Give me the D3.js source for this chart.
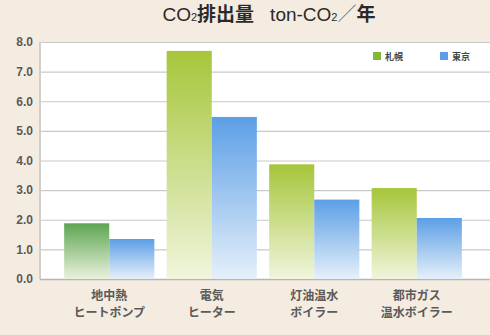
<!DOCTYPE html>
<html>
<head>
<meta charset="utf-8">
<style>
  body { margin: 0; background: #f4ece1; }
  svg { display: block; font-family: "Noto Sans CJK JP", "Noto Sans", sans-serif; }
  .grid line { stroke: #c9c9c9; stroke-width: 1.2px; }
  .grid .domain { display: none; }
  .yaxis text { fill: #5a5a5a; font-size: 12px; font-weight: bold; font-family: "Liberation Sans", Arial, sans-serif; }
  .xlab { fill: #5a5a5a; font-size: 12px; font-weight: bold; }
</style>
<title>CO2排出量</title>
</head>
<body>
<div id="chart"></div>
<script src="https://d3js.org/d3.v7.min.js"></script>
<script>
  // data
  var categories = [["地中熱", "ヒートポンプ"], ["電気", "ヒーター"], ["灯油温水", "ボイラー"], ["都市ガス", "温水ボイラー"]];
  var seriesNames = ["札幌", "東京"];
  var sapporo = [1.88, 7.7, 3.87, 3.07];
  var tokyo = [1.35, 5.47, 2.68, 2.06];
  var yTicks = [0, 1, 2, 3, 4, 5, 6, 7, 8];

  var width = 490, height = 335;
  var plot = {left: 40, right: 490, top: 42, bottom: 279};

  var svg = d3.select("#chart").append("svg")
    .attr("width", width)
    .attr("height", height);

  var defs = svg.append("defs");
  function grad(id, top, bottom) {
    var g = defs.append("linearGradient").attr("id", id)
      .attr("x1", 0).attr("y1", 0).attr("x2", 0).attr("y2", 1);
    g.append("stop").attr("offset", "0%").attr("stop-color", top);
    g.append("stop").attr("offset", "100%").attr("stop-color", bottom);
  }
  grad("gDark", "#5da552", "#eaf2dc");
  grad("gLight", "#a6c63a", "#f0f5dc");
  grad("gBlue", "#5c9fe6", "#e6f0fa");

  // plot background
  svg.append("rect")
    .attr("x", plot.left).attr("y", plot.top)
    .attr("width", plot.right - plot.left).attr("height", plot.bottom - plot.top)
    .attr("fill", "#fff");

  var y = d3.scaleLinear().domain([0, 8]).range([plot.bottom, plot.top]);

  var x0 = d3.scaleBand()
    .domain(d3.range(categories.length))
    .range([58, 468])
    .paddingInner(0.12)
    .paddingOuter(0.06);

  var x1 = d3.scaleBand()
    .domain(seriesNames)
    .range([0, x0.bandwidth()]);

  // gridlines
  svg.append("g")
    .attr("class", "grid")
    .attr("transform", "translate(" + plot.left + ",0)")
    .call(d3.axisRight(y).tickValues(yTicks).tickSize(plot.right - plot.left).tickFormat(""));

  // left edge and bottom line
  svg.append("line")
    .attr("x1", plot.left).attr("x2", plot.left)
    .attr("y1", plot.top).attr("y2", plot.bottom)
    .attr("stroke", "#cfcfcf").attr("stroke-width", 2);
  svg.append("line")
    .attr("x1", plot.left).attr("x2", plot.right)
    .attr("y1", plot.bottom + 0.5).attr("y2", plot.bottom + 0.5)
    .attr("stroke", "#b5b5b5").attr("stroke-width", 1.5);

  // bars
  var rows = categories.map(function(c, i) {
    return [{key: "札幌", value: sapporo[i], i: i}, {key: "東京", value: tokyo[i], i: i}];
  });

  svg.append("g")
    .selectAll("g")
    .data(rows)
    .enter().append("g")
      .attr("transform", function(d, i) { return "translate(" + x0(i) + ",0)"; })
    .selectAll("rect")
    .data(function(d) { return d; })
    .enter().append("rect")
      .attr("x", function(d) { return x1(d.key); })
      .attr("y", function(d) { return y(d.value); })
      .attr("width", x1.bandwidth())
      .attr("height", function(d) { return y(0) - y(d.value); })
      .attr("fill", function(d) {
        if (d.key == "東京") return "url(#gBlue)";
        return d.i == 0 ? "url(#gDark)" : "url(#gLight)";
      });

  // y axis labels
  var yAxis = svg.append("g")
    .attr("class", "yaxis")
    .attr("transform", "translate(33,0)")
    .call(d3.axisLeft(y).tickValues(yTicks).tickSize(0).tickPadding(0).tickFormat(d3.format(".1f")));
  yAxis.select(".domain").remove();

  // x labels
  var xl = svg.append("g")
    .selectAll("text")
    .data(categories)
    .enter().append("text")
      .attr("class", "xlab")
      .attr("text-anchor", "middle")
      .attr("x", function(d, i) { return x0(i) + x0.bandwidth() / 2; })
      .attr("y", 300);
  xl.selectAll("tspan")
    .data(function(d) { return d; })
    .enter().append("tspan")
      .attr("x", function() { return this.parentNode.getAttribute("x"); })
      .attr("dy", function(d, i) { return i ? 17 : 0; })
      .text(function(d) { return d; });

  // title
  var title = svg.append("text")
    .attr("x", 269).attr("y", 21)
    .attr("text-anchor", "middle")
    .attr("fill", "#2a2a2a")
    .attr("font-size", 19)
    .attr("font-family", "'Liberation Sans', 'Noto Sans CJK JP', sans-serif");
  title.append("tspan").text("CO");
  title.append("tspan").attr("font-size", 11).text("2");
  title.append("tspan").attr("font-family", "'Noto Sans CJK JP'").attr("font-weight", "bold").text("排出量");
  title.append("tspan").attr("dx", 16).text("ton-CO");
  title.append("tspan").attr("font-size", 11).text("2");
  title.append("tspan").attr("font-family", "'Noto Sans CJK JP'").attr("fill", "#777").text("／");
  title.append("tspan").attr("font-family", "'Noto Sans CJK JP'").attr("font-weight", "bold").text("年");

  // legend
  var legend = svg.append("g")
    .selectAll("g")
    .data(seriesNames)
    .enter().append("g")
      .attr("transform", function(d, i) { return "translate(" + (373 + i * 67) + ",52)"; });
  legend.append("rect")
    .attr("width", 8).attr("height", 8)
    .attr("fill", function(d, i) { return i ? "#5c9fe6" : "#84b83a"; });
  legend.append("text")
    .attr("x", 12).attr("y", 8)
    .attr("font-size", 9)
    .attr("font-weight", "bold")
    .attr("fill", "#444")
    .text(function(d) { return d; });
</script>
</body>
</html>
